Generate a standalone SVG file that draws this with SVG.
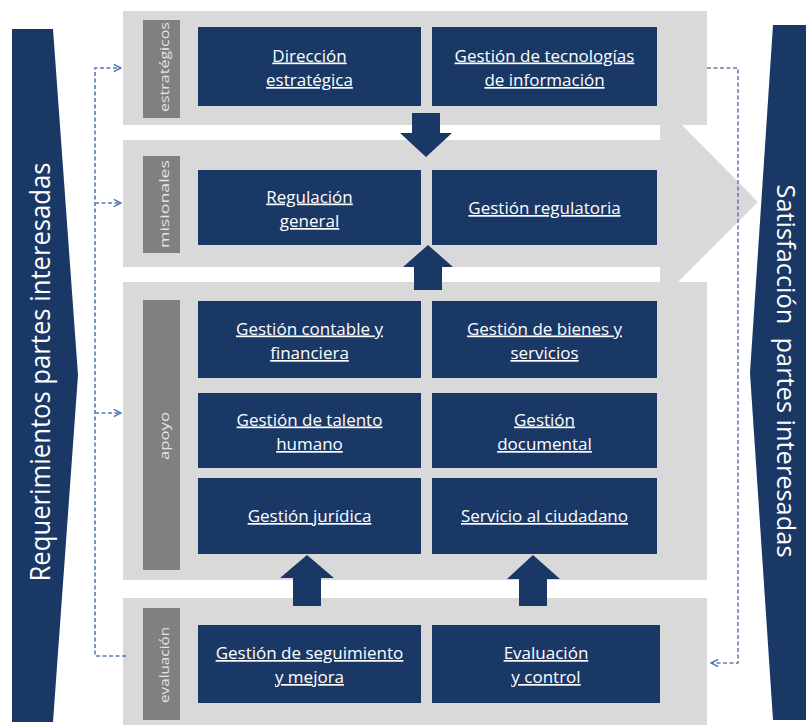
<svg xmlns="http://www.w3.org/2000/svg" width="806" height="725" viewBox="0 0 806 725">
  <style>
    .band { fill: #d9d9d9; }
    .tag { fill: #808080; }
    .tagtxt { fill: #e4e4e4; font-family: "Open Sans", "Liberation Sans", sans-serif; font-size: 13px; text-anchor: middle; }
    .box { fill: #1a3866; }
    .lbl { fill: #ffffff; font-family: "Open Sans", "Liberation Sans", sans-serif; font-size: 17px; text-anchor: middle; text-decoration: underline; }
    .banner { fill: #1a3866; }
    .bannertxt { fill: #ffffff; font-family: "Open Sans", "Liberation Sans", sans-serif; font-size: 27px; text-anchor: middle; }
    .blk { fill: #1a3866; }
    .dash { fill: none; stroke: #5a78b4; stroke-width: 1.6; stroke-dasharray: 4 2.5; }
  </style>
  <defs>
    <marker id="open" viewBox="0 0 10 10" refX="9" refY="5" markerWidth="9" markerHeight="9" markerUnits="userSpaceOnUse" orient="auto">
      <path d="M1,1 L9,5 L1,9" fill="none" stroke="#4a74b8" stroke-width="1.6"/>
    </marker>
  </defs>

  <rect width="806" height="725" fill="#ffffff"/>

  <!-- side banners -->
  <g id="requerimientos">
    <polygon class="banner" points="12,29 53,29 78,375 53,722 12,722"/>
    <text class="bannertxt" transform="translate(50,372) rotate(-90)" textLength="419" lengthAdjust="spacingAndGlyphs">Requerimientos partes interesadas</text>
  </g>
  <g id="satisfaccion">
    <polygon class="banner" points="773,25 806,25 806,720 773,720 750,373"/>
    <text class="bannertxt" transform="translate(777,371) rotate(90)" style="font-size:25px" textLength="373" lengthAdjust="spacingAndGlyphs" xml:space="preserve">Satisfacción  partes interesadas</text>
  </g>

  <!-- process bands -->
  <g id="estrategicos">
    <rect class="band" x="123" y="11" width="584" height="114"/>
    <rect class="tag" x="143" y="20" width="37" height="98"/>
    <text class="tagtxt" transform="translate(169,67) rotate(-90)" textLength="90" lengthAdjust="spacingAndGlyphs">estratégicos</text>
  </g>
  <g id="misionales">
    <rect class="band" x="123" y="140" width="545" height="127"/>
    <polygon class="band" points="660,123 680,123 758,202 678,282 660,282"/>
    <rect class="tag" x="143" y="156" width="37" height="97"/>
    <text class="tagtxt" transform="translate(169,204) rotate(-90)" textLength="88" lengthAdjust="spacingAndGlyphs">misionales</text>
  </g>
  <g id="apoyo">
    <rect class="band" x="123" y="282" width="584" height="298"/>
    <rect class="tag" x="143" y="300" width="37" height="270"/>
    <text class="tagtxt" transform="translate(169,436) rotate(-90)" textLength="48" lengthAdjust="spacingAndGlyphs">apoyo</text>
  </g>
  <g id="evaluacion">
    <rect class="band" x="123" y="598" width="584" height="127"/>
    <rect class="tag" x="143" y="608" width="37" height="112"/>
    <text class="tagtxt" transform="translate(169,665) rotate(-90)" textLength="76" lengthAdjust="spacingAndGlyphs">evaluación</text>
  </g>

  <!-- process boxes -->
  <g id="direccion-estrategica">
    <rect class="box" x="198" y="27" width="223" height="79"/>
    <text class="lbl" x="309.5" y="61.5">Dirección</text>
    <text class="lbl" x="309.5" y="86">estratégica</text>
  </g>
  <g id="gestion-tecnologias">
    <rect class="box" x="432" y="27" width="225" height="79"/>
    <text class="lbl" x="544.5" y="61.5">Gestión de tecnologías</text>
    <text class="lbl" x="544.5" y="86">de información</text>
  </g>
  <g id="regulacion-general">
    <rect class="box" x="198" y="170" width="223" height="75"/>
    <text class="lbl" x="309.5" y="202.5">Regulación</text>
    <text class="lbl" x="309.5" y="227">general</text>
  </g>
  <g id="gestion-regulatoria">
    <rect class="box" x="432" y="170" width="225" height="75"/>
    <text class="lbl" x="544.5" y="214">Gestión regulatoria</text>
  </g>
  <g id="gestion-contable">
    <rect class="box" x="198" y="301" width="223" height="77"/>
    <text class="lbl" x="309.5" y="334.5">Gestión contable y</text>
    <text class="lbl" x="309.5" y="359">financiera</text>
  </g>
  <g id="gestion-bienes">
    <rect class="box" x="432" y="301" width="225" height="77"/>
    <text class="lbl" x="544.5" y="334.5">Gestión de bienes y</text>
    <text class="lbl" x="544.5" y="359">servicios</text>
  </g>
  <g id="gestion-talento">
    <rect class="box" x="198" y="393" width="223" height="75"/>
    <text class="lbl" x="309.5" y="425.5">Gestión de talento</text>
    <text class="lbl" x="309.5" y="450">humano</text>
  </g>
  <g id="gestion-documental">
    <rect class="box" x="432" y="393" width="225" height="75"/>
    <text class="lbl" x="544.5" y="425.5">Gestión</text>
    <text class="lbl" x="544.5" y="450">documental</text>
  </g>
  <g id="gestion-juridica">
    <rect class="box" x="198" y="478" width="223" height="76"/>
    <text class="lbl" x="309.5" y="522">Gestión jurídica</text>
  </g>
  <g id="servicio-ciudadano">
    <rect class="box" x="432" y="478" width="225" height="76"/>
    <text class="lbl" x="544.5" y="522">Servicio al ciudadano</text>
  </g>
  <g id="gestion-seguimiento">
    <rect class="box" x="198" y="625" width="223" height="78"/>
    <text class="lbl" x="309.5" y="659">Gestión de seguimiento</text>
    <text class="lbl" x="309.5" y="683">y mejora</text>
  </g>
  <g id="evaluacion-control">
    <rect class="box" x="432" y="625" width="228" height="78"/>
    <text class="lbl" x="546" y="659">Evaluación</text>
    <text class="lbl" x="546" y="683">y control</text>
  </g>

  <!-- connectors -->
  <g id="connectors">
    <!-- block arrows between bands -->
    <polygon class="blk" points="412,113 440,113 440,133 452,133 426,157 400,133 412,133"/>
    <polygon class="blk" points="414,290 442,290 442,267 453,267 428,245 403,267 414,267"/>
    <polygon class="blk" points="293,606 321,606 321,578 334,578 307,555 280,578 293,578"/>
    <polygon class="blk" points="519,606 547,606 547,579 560,579 533,555 507,579 519,579"/>

    <!-- feedback loop, left -->
    <path class="dash" d="M126,656 H95 V68 H121" marker-end="url(#open)"/>
    <path class="dash" d="M95,203 H121" marker-end="url(#open)"/>
    <path class="dash" d="M95,413 H121" marker-end="url(#open)"/>
    <!-- feedback loop, right -->
    <path class="dash" d="M707,68 H738 V663 H711" marker-end="url(#open)" style="stroke:#6b7ea6"/>
  </g>
</svg>
